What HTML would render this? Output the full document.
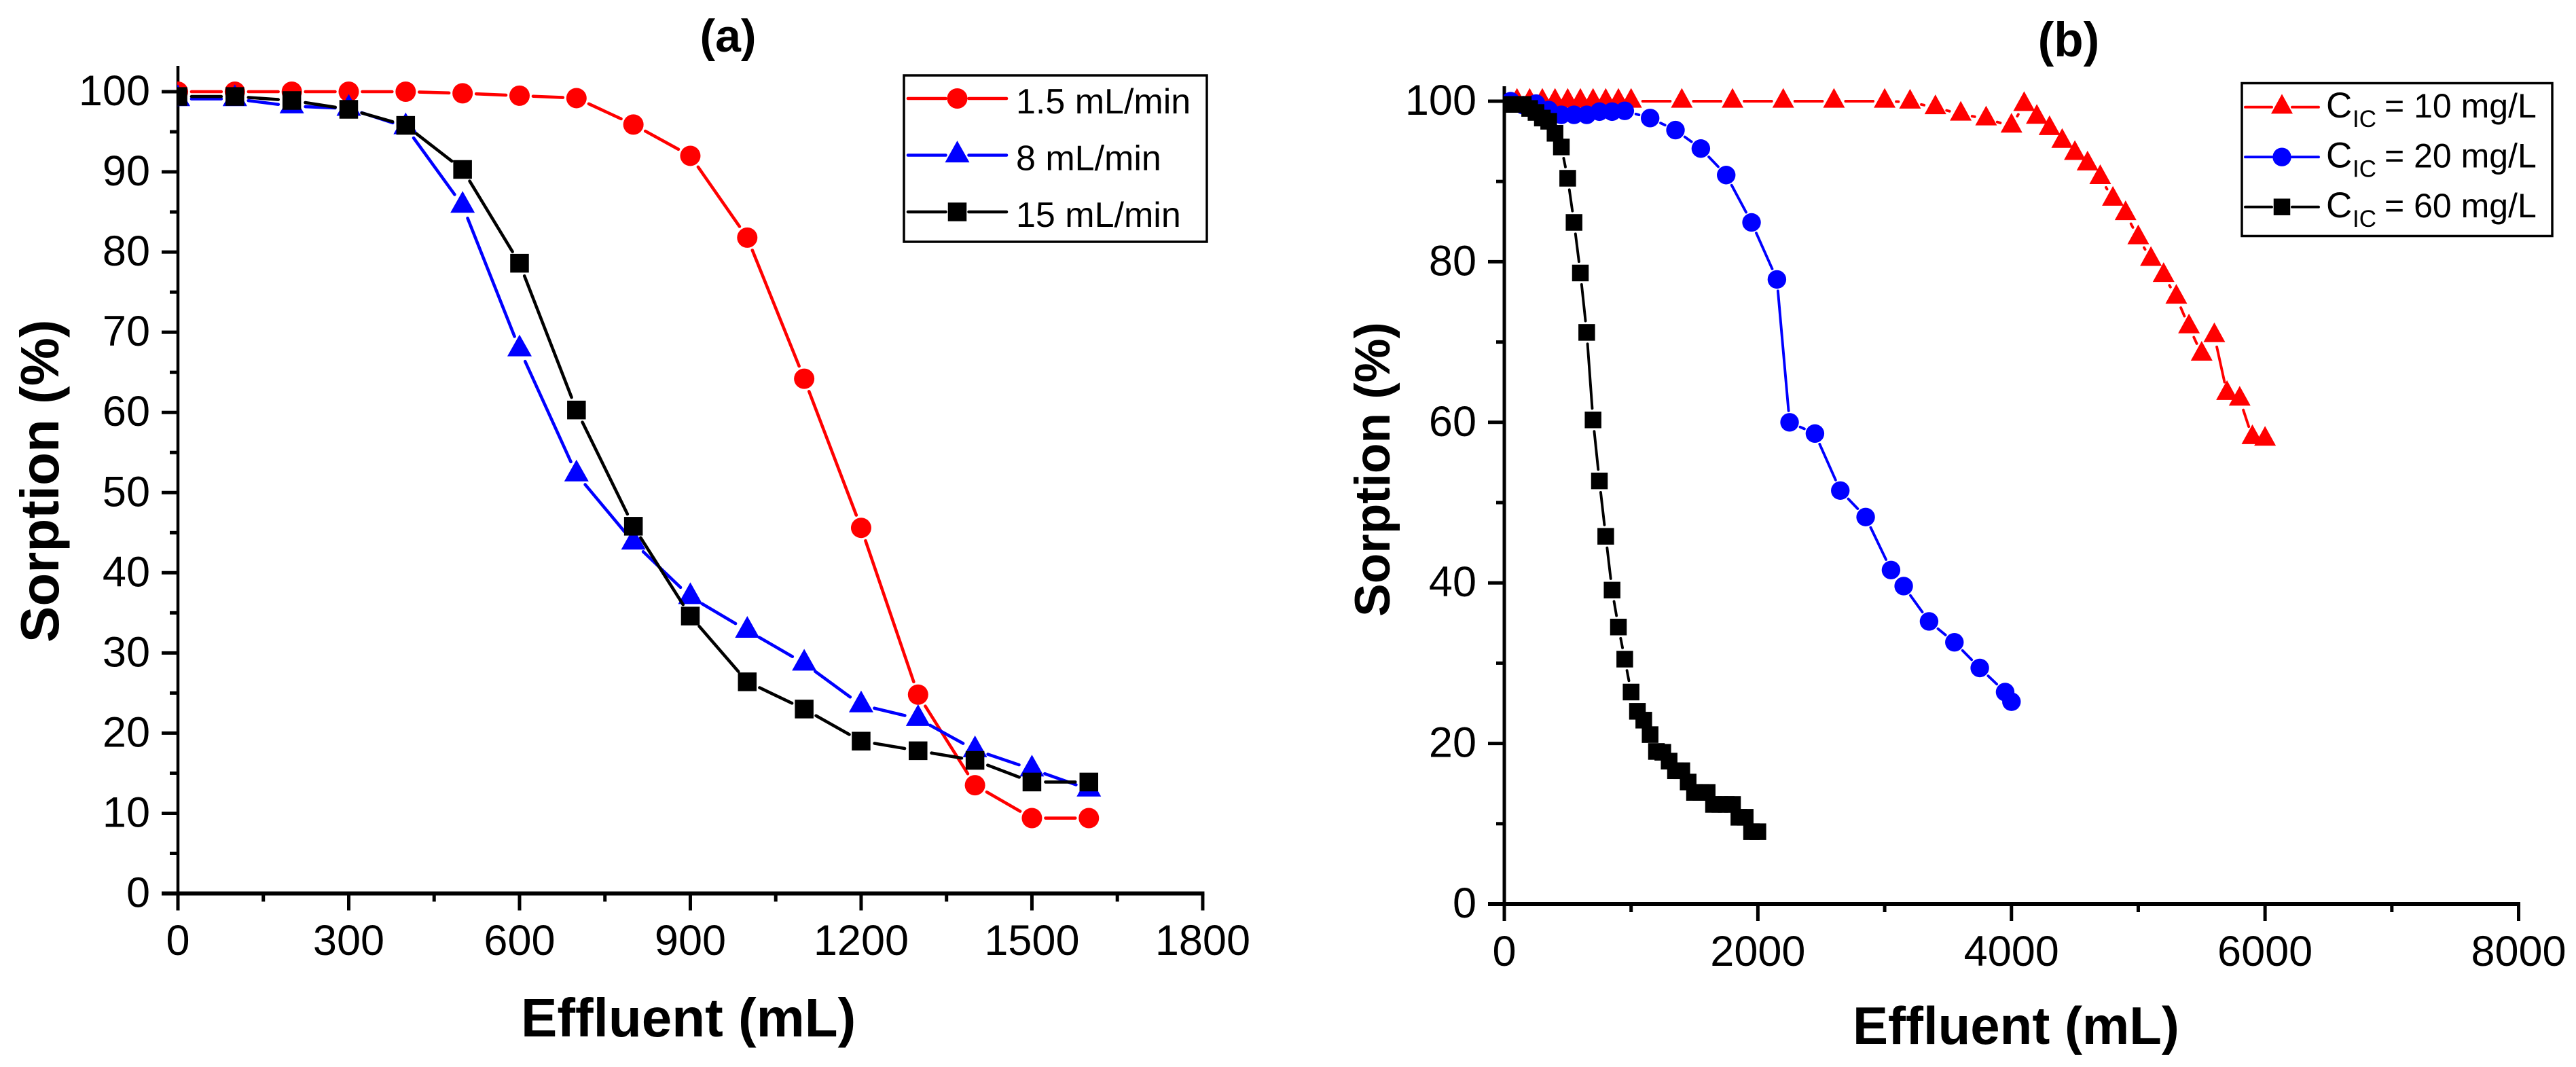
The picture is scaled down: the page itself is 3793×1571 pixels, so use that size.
<!DOCTYPE html>
<html>
<head>
<meta charset="utf-8">
<style>
html,body{margin:0;padding:0;background:#fff;}
svg{display:block;}
text{font-family:"Liberation Sans",Arial,sans-serif;fill:#000;}
</style>
</head>
<body>
<svg id="chart" xmlns="http://www.w3.org/2000/svg" width="3793" height="1571" viewBox="0 0 3793 1571">
<rect x="0" y="0" width="3793" height="1571" fill="#fff"/>
<defs>
<clipPath id="clip-a"><rect x="261" y="0" width="1600" height="1400"/></clipPath>
<clipPath id="clip-b"><rect x="2214" y="0" width="1570" height="1400"/></clipPath>
</defs>
<g id="panel-a"></g>
<g id="panel-b"></g>
</svg>
<script>
// Panel (a) data
const aVolume = [0,100,200,300,400,500,600,700,800,900,1000,1100,1200,1300,1400,1500,1600];
const aFlow15 = [100,100,100,100,100,99.8,99.5,99.2,95.9,92,81.8,64.2,45.6,24.8,13.5,9.4,9.4];
const aFlow8 = [99.1,99.1,98.2,97.9,95.6,85.8,67.9,52.3,43.8,37,32.8,28.7,23.5,21.8,17.9,15.5,13];
const aFlow150 = [99.4,99.4,98.9,97.8,95.8,90.3,78.6,60.3,45.8,34.6,26.4,23,19,17.8,16.6,13.9,13.9];
const aXTicks = [0,300,600,900,1200,1500,1800];
const aXMinor = [150,450,750,1050,1350,1650];
const aYTicks = [0,10,20,30,40,50,60,70,80,90,100];
const aYMinor = [5,15,25,35,45,55,65,75,85,95];
const aLegend = ["1.5 mL/min","8 mL/min","15 mL/min"];

// Panel (b) data
const bRedX = [100,200,300,400,500,600,700,800,900,1000,1400,1800,2200,2600,3000,3200,3400,3600,3800,4000,4100,4200,4300,4400,4500,4600,4700,4800,4900,5000,5100,5200,5300,5400,5500,5600,5700,5800,5900,6000];
const bRedY = [100,100,100,100,100,100,100,100,100,100,100,100,100,100,100,99.9,99.2,98.4,97.8,96.9,99.6,98,96.6,95,93.5,92.2,90.5,87.8,86,83,80.3,78.3,75.6,71.9,68.5,70.8,63.6,62.9,58.1,57.9];
const bBlueX = [50,150,250,350,450,550,650,750,850,950,1150,1350,1550,1750,1950,2150,2250,2450,2650,2850,3050,3150,3350,3550,3750,3950,4000];
const bBlueY = [100,99.5,99.7,98.9,98.3,98.3,98.3,98.7,98.7,98.8,97.9,96.4,94.1,90.8,84.9,77.8,60,58.6,51.5,48.2,41.6,39.6,35.2,32.6,29.4,26.4,25.2];
const bBlackX = [50,100,150,200,250,300,350,400,450,500,550,600,650,700,750,800,850,900,950,1000,1050,1100,1150,1200,1250,1300,1350,1400,1450,1500,1550,1600,1650,1700,1750,1800,1850,1900,1950,2000];
const bBlackY = [99.6,99.6,99.6,99.1,98.6,97.9,97.5,96,94.3,90.4,84.9,78.6,71.2,60.3,52.7,45.8,39.1,34.5,30.5,26.4,24,22.9,21.1,19,18.9,17.8,16.6,16.6,15.2,13.9,13.9,13.9,12.4,12.4,12.4,12.4,10.8,10.8,9,9];
const bXTicks = [0,2000,4000,6000,8000];
const bXMinor = [1000,3000,5000,7000];
const bYTicks = [0,20,40,60,80,100];
const bYMinor = [10,30,50,70,90];
const bLegend = ["10 mg/L","20 mg/L","60 mg/L"];

const NS = "http://www.w3.org/2000/svg";
function make(parent, tag, attrs, txt) {
  const el = document.createElementNS(NS, tag);
  for (const k in attrs) el.setAttribute(k, attrs[k]);
  if (txt !== undefined) el.textContent = txt;
  parent.appendChild(el);
  return el;
}

function marker(parent, kind, cx, cy, s, color) {
  let el;
  if (kind === "circle") {
    el = make(parent, "circle", {cx: cx, cy: cy, r: s.circle, fill: color});
  } else if (kind === "square") {
    el = make(parent, "rect", {x: cx - s.square / 2, y: cy - s.square / 2, width: s.square, height: s.square, fill: color});
  } else {
    const pts = (cx) + "," + (cy - s.triH * 2 / 3) + " " + (cx - s.triW / 2) + "," + (cy + s.triH / 3) + " " + (cx + s.triW / 2) + "," + (cy + s.triH / 3);
    el = make(parent, "polygon", {points: pts, fill: color});
  }
  return el;
}

function series(parent, name, xs, ys, sx, sy, kind, color, s) {
  const g = make(parent, "g", {});
  
  
  for (let i = 0; i < xs.length - 1; i++) {
    const x1 = sx(xs[i]), y1 = sy(ys[i]), x2 = sx(xs[i + 1]), y2 = sy(ys[i + 1]);
    const d = Math.hypot(x2 - x1, y2 - y1);
    if (d <= 2 * s.gap) continue;
    const ux = (x2 - x1) / d, uy = (y2 - y1) / d;
    const seg = make(g, "line", {
      x1: x1 + ux * s.gap, y1: y1 + uy * s.gap,
      x2: x2 - ux * s.gap, y2: y2 - uy * s.gap,
      stroke: color, "stroke-width": s.lw, "stroke-linecap": "round"
    });
    
    
  }
  for (let i = 0; i < xs.length; i++) {
    const m = marker(g, kind, sx(xs[i]), sy(ys[i]), s, color);
    
    
  }
}

function axes(parent, c) {
  const g = make(parent, "g", {});
  
  
  const yl = make(g, "line", {x1: c.sx(0), x2: c.sx(0), y1: c.top, y2: c.sy(0) + 25, stroke: "#000", "stroke-width": c.axisW});
  
  
  const xl = make(g, "line", {x1: c.sx(0) - 24, x2: c.sx(c.xMax) + 2.5, y1: c.sy(0), y2: c.sy(0), stroke: "#000", "stroke-width": 6});
  
  
  c.yTicks.forEach(v => {
    const t = make(g, "line", {x1: c.sx(0) - 24, x2: c.sx(0), y1: c.sy(v), y2: c.sy(v), stroke: "#000", "stroke-width": 5});
    
    
    const l = make(g, "text", {x: c.yLabelX, y: c.sy(v) + 20, "text-anchor": "end", "font-size": c.tickFont}, String(v));
    
    
  });
  c.yMinor.forEach(v => {
    const t = make(g, "line", {x1: c.sx(0) - 12, x2: c.sx(0), y1: c.sy(v), y2: c.sy(v), stroke: "#000", "stroke-width": 5});
    
    
  });
  c.xTicks.forEach(v => {
    const t = make(g, "line", {x1: c.sx(v), x2: c.sx(v), y1: c.sy(0), y2: c.sy(0) + 25, stroke: "#000", "stroke-width": 5});
    
    
    const l = make(g, "text", {x: c.sx(v), y: c.xLabelY, "text-anchor": "middle", "font-size": c.tickFont}, String(v));
    
    
  });
  c.xMinor.forEach(v => {
    const t = make(g, "line", {x1: c.sx(v), x2: c.sx(v), y1: c.sy(0), y2: c.sy(0) + 12, stroke: "#000", "stroke-width": 5});
    
    
  });
  const xt = make(g, "text", {x: c.xTitleX, y: c.xTitleY, "font-size": c.xTitleFont, "font-weight": "bold"}, "Effluent (mL)");
  
  
  const yt = make(g, "text", {x: 0, y: 0, "font-size": c.yTitleFont, "font-weight": "bold", transform: "translate(" + c.yTitleX + "," + c.yTitleY + ") rotate(-90)"}, "Sorption (%)");
  
  
  const tt = make(g, "text", {x: c.titleX, y: c.titleY, "font-size": c.titleFont, "font-weight": "bold", "text-anchor": "middle"}, c.title);
  
  
}

function legendSample(g, xL, xR, y, kind, color, s, gap) {
  const mid = (xL + xR) / 2;
  const a = make(g, "line", {x1: xL, x2: mid - gap, y1: y, y2: y, stroke: color, "stroke-width": s.lw, "stroke-linecap": "round"});
  
  
  const b = make(g, "line", {x1: mid + gap, x2: xR, y1: y, y2: y, stroke: color, "stroke-width": s.lw, "stroke-linecap": "round"});
  
  
  const m = marker(g, kind, mid, y, s, color);
  
  
}

// ---- Panel a ----
const sxA = v => 262 + v * 0.8383;
const syA = v => 1315.5 - v * 11.805;
const styleA = {circle: 15, square: 27.5, triW: 36, triH: 32, gap: 20, lw: 4.6};
const pa = document.getElementById("panel-a");
axes(pa, {sx: sxA, sy: syA, top: 97, axisW: 4.5, xMax: 1800, yTicks: aYTicks, yMinor: aYMinor, xTicks: aXTicks, xMinor: aXMinor,
  yLabelX: 221, xLabelY: 1406, tickFont: 63, xTitleX: 767, xTitleY: 1526, xTitleFont: 80, yTitleX: 86, yTitleY: 946, yTitleFont: 80,
  titleX: 1072, titleY: 76, titleFont: 68, title: "(a)"});
const plotA = make(pa, "g", {"clip-path": "url(#clip-a)"});


series(plotA, "series-1-5-ml-min", aVolume, aFlow15, sxA, syA, "circle", "#ff0000", styleA);
series(plotA, "series-8-ml-min", aVolume, aFlow8, sxA, syA, "triangle", "#0000ff", styleA);
series(plotA, "series-15-ml-min", aVolume, aFlow150, sxA, syA, "square", "#000000", styleA);

const legA = make(pa, "g", {});


const legABox = make(legA, "rect", {x: 1331, y: 111, width: 446, height: 245, fill: "#fff", stroke: "#000", "stroke-width": 3.5});


const legAKinds = ["circle", "triangle", "square"];
const legAColors = ["#ff0000", "#0000ff", "#000000"];
aLegend.forEach((t, i) => {
  const y = 145 + i * 83.5;
  legendSample(legA, 1337, 1482, y, legAKinds[i], legAColors[i], styleA, 17);
  const l = make(legA, "text", {x: 1496, y: y + 22, "font-size": 52}, t);
  
  
});

// ---- Panel b ----
const sxB = v => 2215 + v * 0.18669;
const syB = v => 1331 - v * 11.82;
const styleB = {circle: 13.7, square: 24.5, triW: 32, triH: 29, gap: 17, lw: 3.9};
const pb = document.getElementById("panel-b");
axes(pb, {sx: sxB, sy: syB, top: 127, axisW: 5, xMax: 8000, yTicks: bYTicks, yMinor: bYMinor, xTicks: bXTicks, xMinor: bXMinor,
  yLabelX: 2174, xLabelY: 1422, tickFont: 63, xTitleX: 2728, xTitleY: 1537, xTitleFont: 78, yTitleX: 2046, yTitleY: 908, yTitleFont: 73,
  titleX: 3046, titleY: 83, titleFont: 71, title: "(b)"});
const plotB = make(pb, "g", {"clip-path": "url(#clip-b)"});


series(plotB, "series-cic-10", bRedX, bRedY, sxB, syB, "triangle", "#ff0000", styleB);
series(plotB, "series-cic-20", bBlueX, bBlueY, sxB, syB, "circle", "#0000ff", styleB);
series(plotB, "series-cic-60", bBlackX, bBlackY, sxB, syB, "square", "#000000", styleB);

const legB = make(pb, "g", {});


const legBBox = make(legB, "rect", {x: 3301, y: 122.5, width: 457, height: 225, fill: "#fff", stroke: "#000", "stroke-width": 3.5});


const legBKinds = ["triangle", "circle", "square"];
const legBColors = ["#ff0000", "#0000ff", "#000000"];
bLegend.forEach((t, i) => {
  const y = 157.7 + i * 73.5;
  legendSample(legB, 3306, 3414, y, legBKinds[i], legBColors[i], styleB, 15);
  const l = make(legB, "text", {x: 3425, y: y + 15.5, "font-size": 50});
  
  
  make(l, "tspan", {"font-size": 53}, "C");
  make(l, "tspan", {"font-size": 35, dy: 14, x: 3464}, "IC");
  make(l, "tspan", {dy: -14, x: 3511}, "= " + t);
});
</script>
</body>
</html>
